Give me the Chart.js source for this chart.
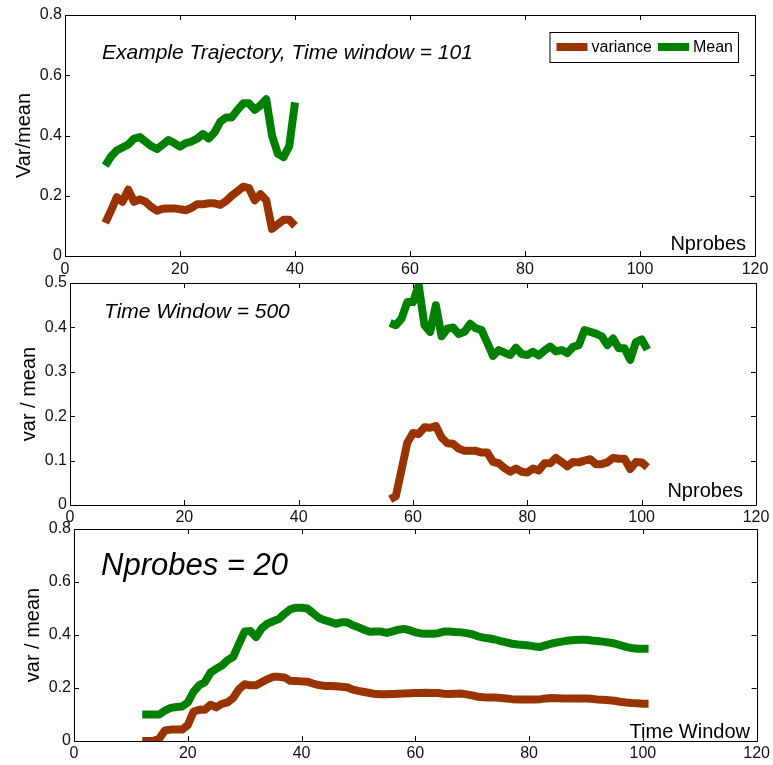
<!DOCTYPE html>
<html>
<head>
<meta charset="utf-8">
<title>var / mean</title>
<script src="https://cdn.jsdelivr.net/npm/chart.js@4.4.1/dist/chart.umd.min.js"></script>
<style>
  body { margin: 0; background: #fff; }
  .panel { position: absolute; left: 0; width: 773px; }
  .panel canvas { display: block; }
</style>
</head>
<body>
<div class="panel" style="top:0px"><canvas id="c1" width="773" height="290"></canvas></div>
<div class="panel" style="top:270px"><canvas id="c2" width="773" height="262"></canvas></div>
<div class="panel" style="top:515px"><canvas id="c3" width="773" height="250"></canvas></div>
<script>
// trajectory with time window 101, swept over number of probes
const nprobesA = [7, 8, 9, 10, 11, 12, 13, 14, 15, 16, 17, 18, 19, 20, 21, 22, 23, 24,
  25, 26, 27, 28, 29, 30, 31, 32, 33, 34, 35, 36, 37, 38, 39, 40];
const varianceA = [0.11, 0.15, 0.195, 0.18, 0.22, 0.18, 0.188, 0.18, 0.163, 0.15, 0.157, 0.158,
  0.158, 0.155, 0.152, 0.16, 0.172, 0.172, 0.175, 0.175, 0.17, 0.182, 0.2, 0.215, 0.23, 0.225,
  0.185, 0.205, 0.185, 0.09, 0.105, 0.12, 0.12, 0.10];
const meanA = [0.30, 0.33, 0.35, 0.36, 0.37, 0.39, 0.395, 0.38, 0.365, 0.355, 0.37, 0.385,
  0.375, 0.363, 0.375, 0.38, 0.39, 0.405, 0.39, 0.41, 0.445, 0.46, 0.46, 0.485, 0.507, 0.507,
  0.485, 0.50, 0.52, 0.40, 0.34, 0.328, 0.365, 0.51];

// time window 500
const nprobesB = [56, 57, 58, 59, 60, 61, 62, 63, 64, 65, 66, 67, 68, 69, 70, 71, 72, 73,
  74, 75, 76, 77, 78, 79, 80, 81, 82, 83, 84, 85, 86, 87, 88, 89, 90, 91, 92, 93, 94, 95,
  96, 97, 98, 99, 100, 101];
const varianceB = [0.013, 0.02, 0.08, 0.14, 0.162, 0.16, 0.175, 0.174, 0.178, 0.152, 0.139,
  0.138, 0.127, 0.122, 0.122, 0.122, 0.118, 0.118, 0.097, 0.094, 0.083, 0.075, 0.082, 0.075,
  0.073, 0.082, 0.078, 0.094, 0.094, 0.106, 0.097, 0.087, 0.097, 0.096, 0.10, 0.103, 0.092,
  0.092, 0.096, 0.106, 0.104, 0.104, 0.081, 0.097, 0.096, 0.085];
const meanB = [0.41, 0.405, 0.42, 0.457, 0.457, 0.495, 0.405, 0.39, 0.45, 0.38, 0.397, 0.40,
  0.385, 0.39, 0.408, 0.398, 0.394, 0.365, 0.336, 0.349, 0.343, 0.338, 0.354, 0.34, 0.338,
  0.345, 0.337, 0.348, 0.357, 0.346, 0.349, 0.342, 0.356, 0.36, 0.394, 0.39, 0.386, 0.38,
  0.36, 0.375, 0.353, 0.353, 0.327, 0.367, 0.373, 0.35];

// 20 probes, swept over the time window
const windowC = [12, 13, 14, 15, 16, 17, 18, 19, 20, 21, 22, 23, 24, 25, 26, 27, 28, 29, 30,
  31, 32, 33, 34, 35, 36, 37, 38, 39, 40, 41, 42, 43, 44, 45, 46, 47, 48, 49, 50, 51, 52, 53,
  54, 55, 56, 57, 58, 59, 60, 61, 62, 63, 64, 65, 66, 67, 68, 69, 70, 71, 72, 73, 74, 75, 76,
  77, 78, 79, 80, 81, 82, 83, 84, 85, 86, 87, 88, 89, 90, 91, 92, 93, 94, 95, 96, 97, 98, 99,
  100, 101];
const varianceC = [0, 0, 0, 0.01, 0.04, 0.043, 0.043, 0.043, 0.06, 0.11, 0.118, 0.118, 0.137,
  0.127, 0.14, 0.146, 0.163, 0.195, 0.214, 0.21, 0.21, 0.222, 0.233, 0.242, 0.242, 0.24, 0.227,
  0.226, 0.225, 0.224, 0.217, 0.211, 0.208, 0.208, 0.207, 0.205, 0.203, 0.194, 0.189, 0.185,
  0.181, 0.177, 0.176, 0.176, 0.177, 0.178, 0.179, 0.18, 0.181, 0.181, 0.182, 0.181, 0.181,
  0.178, 0.177, 0.178, 0.179, 0.176, 0.172, 0.167, 0.165, 0.164, 0.164, 0.162, 0.16, 0.158,
  0.157, 0.157, 0.157, 0.157, 0.158, 0.16, 0.162, 0.161, 0.16, 0.16, 0.16, 0.16, 0.16, 0.159,
  0.157, 0.156, 0.154, 0.152, 0.148, 0.145, 0.143, 0.142, 0.141, 0.141];
const meanC = [0.10, 0.10, 0.10, 0.10, 0.115, 0.125, 0.128, 0.13, 0.145, 0.185, 0.21, 0.222,
  0.258, 0.273, 0.285, 0.305, 0.318, 0.367, 0.413, 0.415, 0.392, 0.425, 0.443, 0.452, 0.46,
  0.48, 0.497, 0.503, 0.503, 0.50, 0.483, 0.465, 0.456, 0.45, 0.442, 0.448, 0.448, 0.437,
  0.429, 0.42, 0.412, 0.413, 0.413, 0.408, 0.414, 0.42, 0.423, 0.418, 0.41, 0.406, 0.405,
  0.405, 0.407, 0.413, 0.413, 0.411, 0.41, 0.407, 0.403, 0.395, 0.39, 0.387, 0.383, 0.377,
  0.372, 0.367, 0.364, 0.362, 0.36, 0.357, 0.355, 0.362, 0.368, 0.372, 0.376, 0.379, 0.381,
  0.382, 0.382, 0.379, 0.377, 0.375, 0.372, 0.368, 0.362, 0.355, 0.351, 0.348, 0.348, 0.348];

const xTicks = [0, 20, 40, 60, 80, 100, 120];
const yTicks08 = [0, 0.2, 0.4, 0.6, 0.8];
const yTicks05 = [0, 0.1, 0.2, 0.3, 0.4, 0.5];

const BROWN = "#993300";
const GREEN = "#008000";
const FONT = "'Liberation Sans', Arial, Helvetica, sans-serif";

Chart.defaults.font.family = FONT;
Chart.defaults.font.size = 16;
Chart.defaults.color = "#111";

// box round the axes with inward ticks on all four sides, matlab style
const framePlugin = {
  id: "frame",
  afterDatasetsDraw(chart) {
    const { ctx, chartArea: a, scales } = chart;
    const x = scales.x, y = scales.y;
    const len = 5;
    ctx.save();
    ctx.strokeStyle = "#000";
    ctx.lineWidth = 1;
    ctx.beginPath();
    ctx.rect(Math.round(a.left) + 0.5, Math.round(a.top) + 0.5,
      Math.round(a.width), Math.round(a.height));
    x.ticks.forEach(t => {
      const px = Math.round(x.getPixelForValue(t.value)) + 0.5;
      ctx.moveTo(px, a.bottom); ctx.lineTo(px, a.bottom - len);
      ctx.moveTo(px, a.top); ctx.lineTo(px, a.top + len);
    });
    y.ticks.forEach(t => {
      const py = Math.round(y.getPixelForValue(t.value)) + 0.5;
      ctx.moveTo(a.left, py); ctx.lineTo(a.left + len, py);
      ctx.moveTo(a.right, py); ctx.lineTo(a.right - len, py);
    });
    ctx.stroke();
    ctx.restore();
  }
};

// panel title, x label placed inside the axes, optional legend box
const notesPlugin = {
  id: "notes",
  afterDraw(chart, args, opts) {
    const ctx = chart.ctx;
    ctx.save();
    ctx.fillStyle = "#000";
    ctx.textBaseline = "alphabetic";
    if (opts.title) {
      ctx.font = opts.title.font;
      ctx.textAlign = "left";
      ctx.fillText(opts.title.text, opts.title.x, opts.title.y);
    }
    if (opts.xlabel) {
      ctx.font = "20px " + FONT;
      ctx.textAlign = "right";
      ctx.fillText(opts.xlabel.text, opts.xlabel.x, opts.xlabel.y);
    }
    if (opts.legend) {
      const L = opts.legend;
      ctx.font = "16px " + FONT;
      const sets = chart.data.datasets;
      const sample = 31;
      let w = 7;
      sets.forEach(d => { w += sample + 4 + ctx.measureText(d.label).width + 6; });
      w -= 1;
      const left = L.right - w, top = L.top, h = 30;
      ctx.fillStyle = "#fff";
      ctx.fillRect(left, top, w, h);
      ctx.strokeStyle = "#000";
      ctx.lineWidth = 1;
      ctx.strokeRect(left + 0.5, top + 0.5, w, h);
      let cx = left + 7;
      const cy = top + h / 2;
      ctx.textBaseline = "middle";
      ctx.textAlign = "left";
      sets.forEach(d => {
        ctx.strokeStyle = d.borderColor;
        ctx.lineWidth = 8;
        ctx.beginPath();
        ctx.moveTo(cx, cy); ctx.lineTo(cx + sample, cy);
        ctx.stroke();
        cx += sample + 4;
        ctx.fillStyle = "#000";
        ctx.fillText(d.label, cx, cy + 1);
        cx += ctx.measureText(d.label).width + 6;
      });
    }
    ctx.restore();
  }
};

function series(xs, ys) {
  return xs.map((x, i) => ({ x: x, y: ys[i] }));
}

function makePanel(id, p) {
  return new Chart(document.getElementById(id), {
    type: "line",
    data: {
      datasets: [
        { label: "variance", data: series(p.xs, p.variance), borderColor: BROWN, clip: p.clip },
        { label: "Mean", data: series(p.xs, p.mean), borderColor: GREEN, clip: p.clip }
      ]
    },
    options: {
      responsive: false,
      animation: false,
      devicePixelRatio: 1,
      layout: { padding: { left: 0, top: p.top, right: p.right, bottom: 0 } },
      elements: {
        line: { borderWidth: 8, tension: 0, borderJoinStyle: "round", borderCapStyle: "butt" },
        point: { radius: 0, hoverRadius: 0 }
      },
      scales: {
        x: {
          type: "linear", min: 0, max: 120,
          grid: { display: false, drawTicks: false },
          border: { display: false },
          ticks: { padding: p.xPad, maxRotation: 0 },
          afterBuildTicks: s => { s.ticks = xTicks.map(v => ({ value: v })); },
          afterFit: s => { s.height = p.xHeight; }
        },
        y: {
          min: 0, max: p.yTicks[p.yTicks.length - 1],
          grid: { display: false, drawTicks: false },
          border: { display: false },
          ticks: { padding: 3 },
          afterBuildTicks: s => { s.ticks = p.yTicks.map(v => ({ value: v })); },
          afterFit: s => { s.width = p.yWidth; },
          title: { display: true, text: p.ytitle, font: { size: 20 }, color: "#000",
            padding: { top: p.yTitlePad, bottom: 0 } }
        }
      },
      plugins: {
        legend: { display: false },
        tooltip: { enabled: false },
        notes: p.notes
      }
    },
    plugins: [framePlugin, notesPlugin]
  });
}

makePanel("c1", {
  xs: nprobesA, variance: varianceA, mean: meanA, yTicks: yTicks08,
  top: 15, right: 18, yWidth: 65, xHeight: 34, xPad: 4, yTitlePad: 12,
  ytitle: "Var/mean",
  notes: {
    title: { text: "Example Trajectory, Time window = 101", x: 102, y: 59, font: "italic 21px " + FONT },
    xlabel: { text: "Nprobes", x: 746, y: 250 },
    legend: { right: 738, top: 32 }
  }
});

makePanel("c2", {
  xs: nprobesB, variance: varianceB, mean: meanB, yTicks: yTicks05, clip: 0,
  top: 13, right: 17, yWidth: 70, xHeight: 27, xPad: 3, yTitlePad: 17,
  ytitle: "var / mean",
  notes: {
    title: { text: "Time Window = 500", x: 104, y: 48, font: "italic 21px " + FONT },
    xlabel: { text: "Nprobes", x: 743, y: 227 }
  }
});

makePanel("c3", {
  xs: windowC, variance: varianceC, mean: meanC, yTicks: yTicks08,
  top: 14, right: 14, yWidth: 74, xHeight: 24, xPad: 3, yTitlePad: 21,
  ytitle: "var / mean",
  notes: {
    title: { text: "Nprobes = 20", x: 101, y: 60, font: "italic 31px " + FONT },
    xlabel: { text: "Time Window", x: 750, y: 223 }
  }
});
</script>
</body>
</html>
